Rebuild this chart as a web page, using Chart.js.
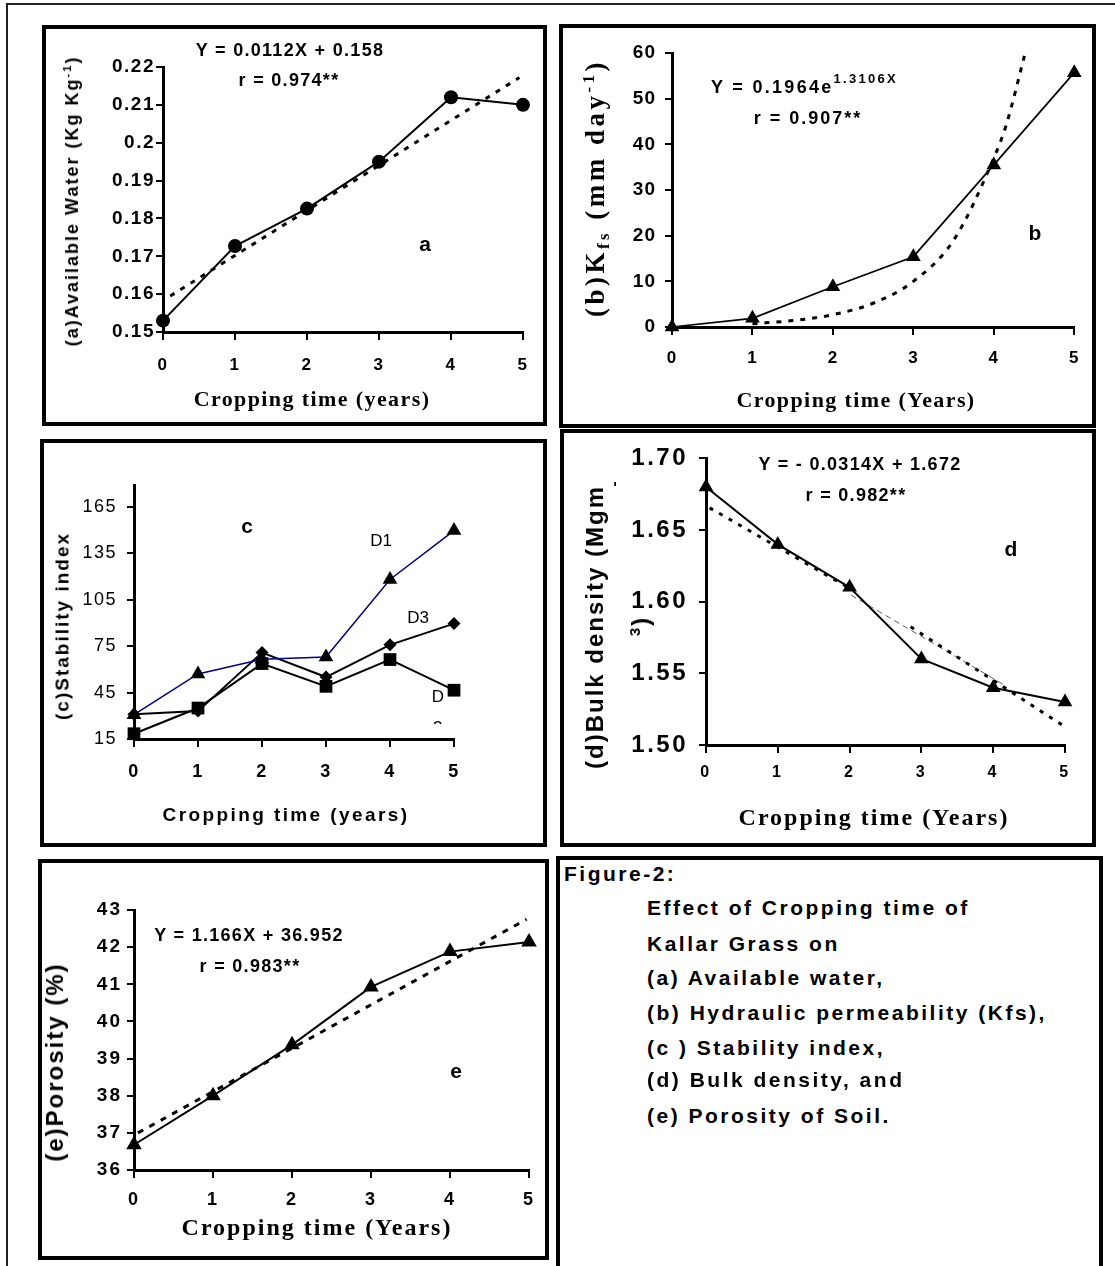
<!DOCTYPE html>
<html>
<head>
<meta charset="utf-8">
<script src="https://cdn.jsdelivr.net/npm/chart.js@4.4.1/dist/chart.umd.min.js"></script>
<style>
html, body { margin: 0; padding: 0; background: #fff; }
body { position: relative; width: 1115px; height: 1266px; overflow: hidden; font-family: "Liberation Sans", Arial, sans-serif; }
.frame { position: absolute; left: 6px; top: 3px; width: 1300px; height: 1400px; border: 2px solid #222; }
.box { position: absolute; border: 4px solid #000; box-sizing: border-box; background: #fff; }
canvas { position: absolute; }
.t { position: absolute; white-space: nowrap; font-weight: bold; color: #000; line-height: 1; }
.c { transform: translate(-50%, -50%); }
.l { transform: translate(0, -50%); }
.rot { transform: translate(-50%, -50%) rotate(-90deg); }
.serif { font-family: "Liberation Serif", "Times New Roman", serif; }
.sup { font-size: 0.62em; position: relative; top: -0.62em; }
.sub { font-size: 0.62em; position: relative; top: 0.3em; }
.n { font-weight: normal; }
</style>
</head>
<body>
<div class="frame"></div>

<div class="box" style="left:42px;top:25px;width:505px;height:401px"></div>
<div class="box" style="left:559px;top:24px;width:537px;height:404px"></div>
<div class="box" style="left:40px;top:439px;width:507px;height:408px"></div>
<div class="box" style="left:560px;top:429px;width:536px;height:418px"></div>
<div class="box" style="left:38px;top:859px;width:511px;height:401px"></div>
<div class="box" style="left:556px;top:856px;width:547px;height:414px"></div>

<canvas id="chartA"></canvas>
<canvas id="chartB"></canvas>
<canvas id="chartC"></canvas>
<canvas id="chartD"></canvas>
<canvas id="chartE"></canvas>

<!-- panel a -->
<div class="t c" style="left:290px;top:50px;font-size:18px;letter-spacing:1.3px">Y = 0.0112X + 0.158</div>
<div class="t c" style="left:289px;top:80px;font-size:18px;letter-spacing:1.3px">r = 0.974**</div>
<div class="t c" style="left:425px;top:243px;font-size:21px">a</div>
<div class="t rot" style="left:72px;top:201px;font-size:18px;letter-spacing:2px">(a)Available Water (Kg Kg<span class="sup">-1</span>)</div>
<div class="t c serif" style="left:312px;top:399px;font-size:22px;letter-spacing:1.4px">Cropping time (years)</div>

<!-- panel b -->
<div class="t l" style="left:711px;top:87px;font-size:18px;letter-spacing:2.3px">Y = 0.1964e<span class="sup" style="font-size:13px;top:-0.8em">1.3106X</span></div>
<div class="t c" style="left:808px;top:118px;font-size:18px;letter-spacing:2px">r = 0.907**</div>
<div class="t c" style="left:1035px;top:232px;font-size:21px">b</div>
<div class="t rot serif" style="left:595px;top:188px;font-size:27px;letter-spacing:3.5px">(b)K<span class="sub">fs</span> (mm day<span class="sup">-1</span>)</div>
<div class="t c serif" style="left:856px;top:400px;font-size:22px;letter-spacing:1.4px">Cropping time (Years)</div>

<!-- panel c -->
<div class="t c" style="left:247px;top:525px;font-size:21px">c</div>
<div class="t c n" style="left:381px;top:540px;font-size:17px">D1</div>
<div class="t c n" style="left:418px;top:617px;font-size:17px">D3</div>
<div class="t c n" style="left:438px;top:696px;font-size:17px">D</div>
<div class="t n" style="left:433px;top:719px;height:5px;overflow:hidden;font-size:17px">2</div>
<div class="t rot" style="left:62px;top:626px;font-size:19px;letter-spacing:2px">(c)Stability index</div>
<div class="t c" style="left:286px;top:814px;font-size:19px;letter-spacing:2.4px">Cropping time (years)</div>

<!-- panel d -->
<div class="t c" style="left:860px;top:464px;font-size:18px;letter-spacing:1.3px">Y = - 0.0314X + 1.672</div>
<div class="t c" style="left:856px;top:495px;font-size:18px;letter-spacing:1.3px">r = 0.982**</div>
<div class="t c" style="left:1011px;top:548px;font-size:21px">d</div>
<div class="t rot" style="left:595px;top:627px;font-size:24px;letter-spacing:2px">(d)Bulk density (Mgm</div>
<div class="t rot" style="left:613px;top:484px;font-size:15px">-</div>
<div class="t rot" style="left:641px;top:626px;font-size:24px;letter-spacing:2px"><span class="sup">3</span>)</div>
<div class="t c serif" style="left:874px;top:817px;font-size:24px;letter-spacing:2px">Cropping time (Years)</div>

<!-- panel e -->
<div class="t c" style="left:249px;top:935px;font-size:18px;letter-spacing:1.3px">Y = 1.166X + 36.952</div>
<div class="t c" style="left:250px;top:966px;font-size:18px;letter-spacing:1.3px">r = 0.983**</div>
<div class="t c" style="left:456px;top:1070px;font-size:21px">e</div>
<div class="t rot" style="left:55px;top:1062px;font-size:24px;letter-spacing:2px">(e)Porosity (%)</div>
<div class="t c serif" style="left:317px;top:1227px;font-size:24px;letter-spacing:2px">Cropping time (Years)</div>

<!-- caption -->
<div class="t l" style="left:564px;top:873px;font-size:21px;letter-spacing:2.5px">Figure-2:</div>
<div class="t l" style="left:647px;top:907px;font-size:21px;letter-spacing:2.5px">Effect of Cropping time of</div>
<div class="t l" style="left:647px;top:943px;font-size:21px;letter-spacing:2.5px">Kallar Grass on</div>
<div class="t l" style="left:647px;top:977px;font-size:21px;letter-spacing:2.5px">(a) Available water,</div>
<div class="t l" style="left:647px;top:1012px;font-size:21px;letter-spacing:2.5px">(b) Hydraulic permeability (Kfs),</div>
<div class="t l" style="left:647px;top:1047px;font-size:21px;letter-spacing:2.5px">(c ) Stability index,</div>
<div class="t l" style="left:647px;top:1079px;font-size:21px;letter-spacing:2.5px">(d) Bulk density, and</div>
<div class="t l" style="left:647px;top:1115px;font-size:21px;letter-spacing:2.5px">(e) Porosity of Soil.</div>

<script>
Chart.defaults.font.family = '"Liberation Sans", Arial, sans-serif';
Chart.defaults.color = '#000';

const years = [0, 1, 2, 3, 4, 5];
const xTicks = [0, 1, 2, 3, 4, 5];

// (a) available water
const waterA = [0.153, 0.1727, 0.1826, 0.195, 0.212, 0.21];
const waterFitX = [0.1, 4.95];
const waterFitY = [0.1595, 0.2172];
const waterTicks = [0.15, 0.16, 0.17, 0.18, 0.19, 0.2, 0.21, 0.22];

// (b) Kfs
const kfsB = [0, 1.9, 8.8, 15.4, 35.5, 55.7];
const kfsFitX = [1, 1.5, 2, 2.5, 3, 3.5, 4, 4.15, 4.39];
const kfsFitY = [0.7, 1.4, 2.7, 5.2, 10, 19, 37, 44, 60];
const kfsTicks = [0, 10, 20, 30, 40, 50, 60];

// (c) stability index
const stabD1 = [30.7, 57, 66.5, 68, 118, 149.6];
const stabD2 = [18.4, 35, 63.7, 49, 66.3, 46.5];
const stabD3 = [31, 33, 70.8, 55, 75.8, 89.5];
const stabTicks = [15, 45, 75, 105, 135, 165];

// (d) bulk density
const bulkD = [1.68, 1.64, 1.61, 1.56, 1.54, 1.53];
const bulkFitX = [0.05, 1.95, 2.4, 2.85, 4.97];
const bulkFitY = [1.6655, 1.6108, null, 1.5825, 1.5137];
const bulkThinX = [2.02, 4.17];
const bulkThinY = [1.6046, 1.5414];
const bulkTicks = [1.5, 1.55, 1.6, 1.65, 1.7];

// (e) porosity
const porosE = [36.68, 38.0, 39.37, 40.93, 41.88, 42.14];
const porosFitX = [0.05, 4.97];
const porosFitY = [37.0, 42.75];
const porosTicks = [36, 37, 38, 39, 40, 41, 42, 43];

function pts(xs, ys) {
    return xs.map((x, i) => ({ x: x, y: ys[i] }));
}

// Excel-like wide tick text
const spacing = {
    id: 'spacing',
    beforeDraw(chart, args, opts) {
        chart.ctx.letterSpacing = opts.space || '0px';
    }
};

function marks(data, style, radius, color, width) {
    return {
        data: data, borderColor: color || '#000', borderWidth: width || 2,
        pointStyle: style, pointRadius: radius, pointBackgroundColor: '#000',
        pointBorderColor: '#000', pointBorderWidth: 0, clip: false, tension: 0
    };
}

function trend(data, dash, width) {
    return {
        data: data, borderColor: '#000', borderWidth: width || 3, borderDash: dash || [4, 6],
        pointRadius: 0, clip: false, tension: 0
    };
}

function panel(id, cv, area, p) {
    const el = document.getElementById(id);
    el.style.left = cv[0] + 'px';
    el.style.top = cv[1] + 'px';
    el.width = cv[2];
    el.height = cv[3];
    new Chart(el, {
        type: 'line',
        data: { datasets: p.datasets },
        options: {
            responsive: false,
            animation: false,
            layout: { padding: { left: 0, bottom: 0, top: area[1] - cv[1], right: cv[0] + cv[2] - area[2] } },
            plugins: { legend: { display: false }, tooltip: { enabled: false }, spacing: { space: p.space } },
            scales: {
                x: {
                    type: 'linear', min: 0, max: 5,
                    afterBuildTicks: s => { s.ticks = xTicks.map(v => ({ value: v })); },
                    afterFit: s => { s.height = cv[1] + cv[3] - area[3]; },
                    ticks: { font: p.xFont, color: '#000', padding: p.xPad, maxRotation: 0, autoSkip: false, callback: v => String(v) },
                    grid: { drawOnChartArea: false, color: '#000', lineWidth: 2, tickLength: 8 },
                    border: { color: '#000', width: 3 }
                },
                y: {
                    type: 'linear', min: p.yTicks[0], max: p.yMax,
                    afterBuildTicks: s => { s.ticks = p.yTicks.map(v => ({ value: v })); },
                    afterFit: s => { s.width = area[0] - cv[0]; },
                    ticks: { font: p.yFont, color: '#000', padding: p.yPad, autoSkip: false, callback: p.yFmt },
                    grid: { drawOnChartArea: false, color: '#000', lineWidth: 2, tickLength: 7 },
                    border: { color: '#000', width: 3 }
                }
            }
        },
        plugins: [spacing]
    });
}

panel('chartA', [46, 29, 497, 393], [163, 67, 523, 332], {
    yTicks: waterTicks, yMax: 0.22, yFmt: v => String(v),
    yFont: { size: 19, weight: 'bold' }, yPad: 1, space: '1.5px',
    xFont: { size: 17, weight: 'bold' }, xPad: 15,
    datasets: [
        marks(pts(years, waterA), 'circle', 7),
        trend(pts(waterFitX, waterFitY), [5, 7], 3)
    ]
});

panel('chartB', [563, 28, 529, 396], [672, 53, 1083, 327], {
    yTicks: kfsTicks, yMax: 60, yFmt: v => String(v),
    yFont: { size: 19, weight: 'bold' }, yPad: 9, space: '1px',
    xFont: { size: 17, weight: 'bold' }, xPad: 13,
    datasets: [
        marks(pts(years, kfsB), 'triangle', 8.5, '#000', 1.7),
        Object.assign(trend(pts(kfsFitX, kfsFitY), [5, 7], 3), { cubicInterpolationMode: 'monotone' })
    ]
});

panel('chartC', [44, 443, 499, 400], [134, 485, 454, 739], {
    yTicks: stabTicks, yMax: 179, yFmt: v => String(v),
    yFont: { size: 18 }, yPad: 10, space: '1.5px',
    xFont: { size: 18, weight: 'bold' }, xPad: 14,
    datasets: [
        marks(pts(years, stabD1), 'triangle', 8.5, '#000080', 1.5),
        marks(pts(years, stabD2), 'rect', 9, '#000', 2),
        marks(pts(years, stabD3), 'rectRot', 6.5, '#000', 2)
    ]
});

panel('chartD', [564, 433, 528, 410], [706, 455, 1065, 745], {
    yTicks: bulkTicks, yMax: 1.7, yFmt: v => v.toFixed(2),
    yFont: { size: 24, weight: 'bold' }, yPad: 11, space: '2.5px',
    xFont: { size: 16, weight: 'bold' }, xPad: 10,
    datasets: [
        marks(pts(years, bulkD), 'triangle', 8.5, '#000', 2),
        trend(pts(bulkFitX, bulkFitY), [4, 7], 3),
        Object.assign(trend(pts(bulkThinX, bulkThinY), [6, 4], 0.8), { borderColor: '#333' })
    ]
});

panel('chartE', [42, 863, 503, 393], [134, 910, 530, 1170], {
    yTicks: porosTicks, yMax: 43, yFmt: v => String(v),
    yFont: { size: 19, weight: 'bold' }, yPad: 5, space: '2px',
    xFont: { size: 18, weight: 'bold' }, xPad: 11,
    datasets: [
        marks(pts(years, porosE), 'triangle', 9, '#000', 2),
        trend(pts(porosFitX, porosFitY), [6, 7], 3)
    ]
});
</script>
</body>
</html>
